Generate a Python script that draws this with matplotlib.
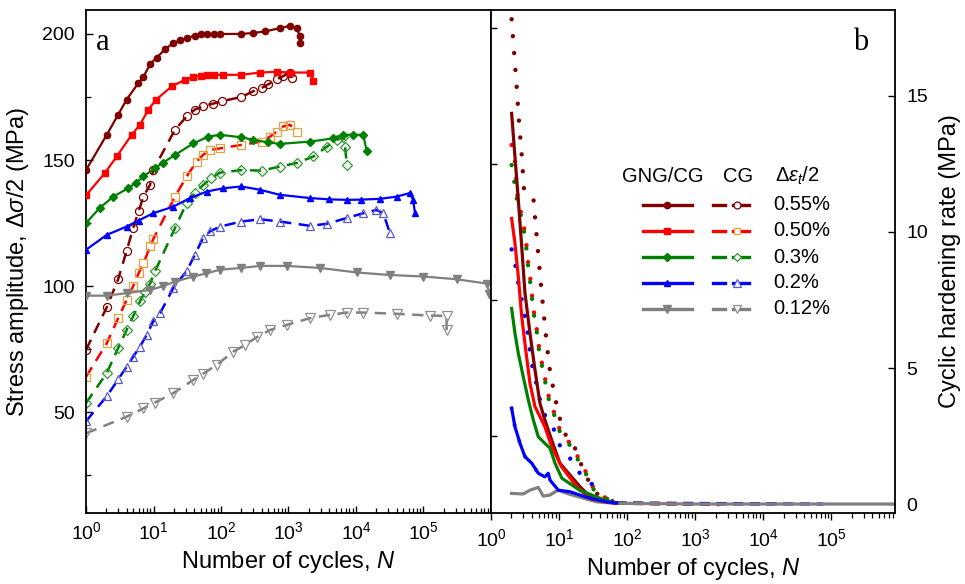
import numpy as np
import matplotlib
matplotlib.use('Agg')
import matplotlib.pyplot as plt
from matplotlib import ticker

plt.rcParams['font.family'] = ['Liberation Sans', 'DejaVu Sans']
plt.rcParams['mathtext.fontset'] = 'custom'
plt.rcParams['mathtext.rm'] = 'Liberation Sans'
plt.rcParams['mathtext.it'] = 'Liberation Sans:italic'
plt.rcParams['mathtext.bf'] = 'Liberation Sans:bold'

# ---------------- panel a: stress amplitude ----------------
amp_labels = ['0.55%', '0.50%', '0.3%', '0.2%', '0.12%']

gng055_N = [1, 2.03, 3.0, 4.0, 5.96, 7.1, 8.9, 11.1, 15, 19.6, 25, 31, 41, 50, 61.5, 80, 96.7, 200, 302, 447, 743, 1050, 1317, 1480, 1480]
gng055_S = [146, 160, 168, 174, 180.5, 183, 188, 190.6, 194, 196.4, 197.5, 198.4, 199.3, 199.8, 200, 200, 200, 200, 200.4, 201, 202.3, 203.2, 202.3, 199, 196.4]
gng050_N = [1, 1.9, 2.85, 4.75, 6.3, 8.4, 11, 18.6, 29.3, 39, 50, 61.5, 80, 108, 200, 378, 670, 1050, 2090, 2340]
gng050_S = [136, 144.8, 151.4, 160, 164, 170, 174, 179.2, 181.8, 183, 183.5, 183.8, 183.8, 183.8, 183.8, 184.7, 185, 184.7, 184.7, 181.5]
gng03_N = [1, 1.6, 2.54, 4.2, 5.5, 7.1, 10.5, 14, 20.8, 39, 65, 96.7, 200, 302, 500, 743, 2090, 4600, 6500, 9000, 12800, 14400]
gng03_S = [125, 131, 135.5, 138.8, 141, 143.5, 146.8, 149, 152, 156.6, 159.3, 160, 159, 158, 157, 156.4, 157.3, 158.6, 160, 160, 160, 153.5]
gng02_N = [1, 2.03, 4, 6, 9.9, 19.6, 34.8, 61.5, 108, 200, 378, 743, 2090, 4000, 7300, 12000, 22700, 40000, 63000, 70000, 75000]
gng02_S = [114.4, 120.3, 123.6, 126, 128.9, 131.5, 134.9, 137.5, 138.8, 139.5, 138.2, 136.2, 134.9, 134.4, 134.2, 134.3, 134.6, 135.5, 136.9, 134.2, 128.9]
gng012_N = [1, 2.03, 4, 8.9, 14, 20.8, 39, 60, 96.7, 200, 378, 940, 2930, 10200, 31800, 100000, 310000, 870000, 950000]
gng012_S = [96.2, 96.2, 97.2, 98.5, 100, 101.8, 103.8, 105, 106.5, 107.2, 108, 108, 107.2, 105.4, 104.4, 103.8, 102.7, 101, 97]

cg055_N = [1, 2.03, 3, 4, 5, 6, 7.1, 8.9, 9.9, 20.8, 31, 41, 54, 77, 102, 200, 302, 400, 500, 670, 836, 1050, 1110]
cg055_S = [74.7, 91.6, 102.8, 114, 123, 129.6, 135.5, 140.2, 146, 162, 167.3, 170, 171.3, 172.4, 173.3, 175, 177.3, 178.6, 180, 182, 183.3, 184.7, 182.7]
cg050_N = [1, 2.03, 3, 4, 5, 6, 7.1, 8.9, 9.9, 20.8, 31, 43.6, 54, 68.7, 96.7, 200, 400, 535, 670, 836, 1050, 1317]
cg050_S = [64, 77.3, 87.3, 94.5, 100, 105, 109, 115.7, 118.6, 135.5, 143.5, 149.4, 152, 154, 154.6, 156, 157.3, 159.3, 161.3, 163.3, 164, 161.3]
cg03_N = [1, 2.03, 3, 4, 5, 6.3, 7.5, 8.9, 10.5, 20.8, 31, 41, 54, 72, 96.7, 200, 400, 743, 1317, 2340, 3700, 5200, 6500, 6900, 7300]
cg03_S = [53.6, 65.5, 75.5, 82.6, 88, 93.9, 97.8, 101, 105.8, 123, 133, 137, 140, 142.8, 145, 146, 145.8, 147.4, 148.8, 151.4, 155.3, 158, 159.3, 155.3, 148]
cg02_N = [1, 2.03, 3, 4, 5, 6.3, 7.9, 9.9, 12.5, 19.6, 31, 41, 54, 68.7, 96.7, 200, 378, 743, 2090, 3700, 7300, 12800, 20000, 25400, 31800]
cg02_S = [46.4, 56.3, 63, 68, 72, 76, 80.6, 86, 89.2, 99.2, 106, 112.4, 119, 121.7, 123.6, 125.6, 126.5, 125.6, 123.9, 124.7, 127, 128.9, 130.2, 128.9, 121]
cg012_N = [1, 4, 7.1, 10.5, 19.6, 39, 54, 86, 152, 230, 337, 535, 940, 2090, 4100, 7300, 12800, 40000, 125000, 220000, 220000]
cg012_S = [41.6, 48.2, 51.5, 53.8, 57.5, 62.8, 65.2, 68.7, 74, 76.7, 79.7, 82.6, 84.6, 87.3, 88.6, 89.5, 89.5, 89, 88.3, 88.2, 82.6]

# ---------------- panel b: cyclic hardening rate ----------------
rg055_N = [2.01, 2.25, 2.52, 2.83, 3.16, 3.74, 4.43, 5.25, 6.2, 7.8, 10.3, 15.3, 20.3, 28.6, 50, 70]
rg055_R = [14.36, 12.77, 11.18, 9.46, 7.75, 6.28, 4.93, 3.7, 3.09, 2.35, 1.5, 1.0, 0.64, 0.27, 0.08, 0.03]
rg050_N = [2.01, 2.25, 2.52, 2.83, 3.24, 3.74, 4.43, 5.25, 6.2, 7.8, 10.9, 18.2, 28.6, 50, 70]
rg050_R = [10.5, 9.58, 8.36, 6.89, 5.66, 4.44, 3.58, 3.21, 2.84, 2.11, 1.37, 0.64, 0.2, 0.08, 0.03]
rg03_N = [2.01, 2.25, 2.52, 2.98, 3.54, 4.19, 4.96, 6.2, 7.37, 8.73, 11, 20.3, 50, 70]
rg03_R = [7.19, 6.28, 5.54, 4.68, 3.82, 3.09, 2.47, 2.23, 2.05, 1.5, 0.95, 0.5, 0.12, 0.05]
rg02_N = [2.01, 2.25, 2.67, 3.16, 3.97, 4.96, 6.2, 6.95, 7.37, 9.75, 14.5, 20.3, 28.6, 50, 70]
rg02_R = [3.52, 2.84, 2.23, 1.74, 1.5, 1.13, 1.0, 1.13, 0.88, 0.51, 0.45, 0.33, 0.21, 0.08, 0.04]
rg012_N = [2.01, 2.98, 3.74, 4.96, 5.87, 7.37, 8.73, 9.75, 13, 20.3, 35.8, 62, 1000, 100000, 870000]
rg012_R = [0.39, 0.37, 0.51, 0.61, 0.29, 0.33, 0.45, 0.51, 0.39, 0.25, 0.08, 0.03, 0.0, 0.0, 0.0]

# tails near zero (drawn dashed in the figure)
tail_N = [[70, 1500], [70, 2340], [70, 14400], [70, 76000]]
tail_R = [[0.03, 0.0], [0.03, -0.02], [0.03, 0.0], [0.03, 0.0]]

rc055_N = [2.01, 2.39, 2.58, 2.83, 3.06, 4.19, 4.86, 5.68, 6.37, 7.2, 7.95, 8.9, 10.1, 12.2, 14.5, 17.2, 20.3, 25.5, 30, 35.8, 50, 62]
rc055_R = [17.82, 15.3, 14.05, 12.83, 11.54, 11.28, 9.4, 7.53, 6.28, 5.05, 4.44, 3.82, 3.2, 2.6, 2.23, 2.05, 1.56, 1.0, 0.64, 0.39, 0.15, 0.1]
rc050_N = [2.01, 2.25, 2.47, 2.76, 3.09, 3.35, 3.54, 3.84, 4.05, 4.33, 4.8, 5.13, 5.75, 6.44, 7.2, 8.73, 10.3, 14.5, 20.3, 27, 31.9, 40, 62]
rc050_R = [13.2, 12.6, 11.2, 10.7, 10.1, 9.46, 8.79, 8.17, 7.56, 6.95, 6.3, 5.66, 5.05, 4.44, 3.85, 3.27, 2.72, 2.23, 1.6, 1.0, 0.6, 0.3, 0.15]
rc03_N = [2.01, 2.2, 2.47, 2.76, 3.09, 3.35, 3.54, 3.84, 4.05, 4.33, 4.8, 5.13, 5.75, 6.44, 7.2, 8.73, 10.3, 14.5, 20.3, 27, 31.9, 40, 62]
rc03_R = [12.46, 11.85, 11.0, 10.6, 9.95, 9.3, 8.65, 8.0, 7.45, 6.85, 6.2, 5.55, 4.95, 4.35, 3.75, 3.2, 2.65, 2.15, 1.5, 0.95, 0.55, 0.28, 0.12]
rc02_N = [2.01, 2.31, 2.52, 2.83, 3.16, 3.46, 3.74, 4.1, 4.7, 5.25, 6.2, 8.5, 9.75, 14, 22.7, 37.7, 46]
rc02_R = [9.36, 8.72, 8.11, 7.5, 6.86, 6.28, 5.64, 4.99, 4.38, 3.82, 3.27, 2.72, 2.23, 1.74, 0.94, 0.58, 0.51]
rc012_N = [2.01, 2.25, 2.67, 3.16, 3.97, 4.96, 6.2]
rc012_R = [3.52, 2.84, 2.23, 1.74, 1.5, 1.13, 1.0]

colors = ['#800000', '#ff0000', '#008000', '#0000ff', '#808080']
markers = ['o', 's', 'D', '^', 'v']
msizes = [4.5, 4.5, 4.0, 5.0, 5.5]
cg_edges = ['#800000', '#e8a040', '#2e9a2e', '#5a5acc', '#909090']

gng_a = [(gng055_N, gng055_S), (gng050_N, gng050_S), (gng03_N, gng03_S), (gng02_N, gng02_S), (gng012_N, gng012_S)]
cg_a = [(cg055_N, cg055_S), (cg050_N, cg050_S), (cg03_N, cg03_S), (cg02_N, cg02_S), (cg012_N, cg012_S)]
gng_b = [(rg055_N, rg055_R), (rg050_N, rg050_R), (rg03_N, rg03_R), (rg02_N, rg02_R), (rg012_N, rg012_R)]
cg_b = [(rc055_N, rc055_R), (rc050_N, rc050_R), (rc03_N, rc03_R), (rc02_N, rc02_R), (rc012_N, rc012_R)]

W, H = 965, 584
fig = plt.figure(figsize=(W / 100, H / 100), dpi=100)


def px_axes(x0, x1, y0, y1):
    return fig.add_axes([x0 / W, 1 - y1 / H, (x1 - x0) / W, (y1 - y0) / H])


ax1 = px_axes(86, 491, 10, 513)
ax2 = px_axes(491, 895, 10, 513)

# ---- panel a ----
for i in range(5):
    n, s = cg_a[i]
    ax1.plot(n, s, color=colors[i], lw=1.8, dashes=(4.5, 3.0), marker=markers[i],
             ms=msizes[i] + 1.3, mfc='none', mec=cg_edges[i], mew=0.9, zorder=2)
for i in range(5):
    n, s = gng_a[i]
    ax1.plot(n, s, color=colors[i], lw=1.6, marker=markers[i], ms=msizes[i],
             mfc=colors[i], mec=colors[i], zorder=3)

ax1.set_xscale('log')
ax1.set_xlim(1, 1e6)
ax1.set_ylim(10, 209.5)
ax1.xaxis.set_major_locator(ticker.FixedLocator([1e0, 1e1, 1e2, 1e3, 1e4, 1e5, 1e6]))
ax1.xaxis.set_major_formatter(ticker.FuncFormatter(
    lambda v, p: '' if v > 5e5 else r'$\mathdefault{10^{%d}}$' % int(round(np.log10(v)))))
ax1.xaxis.set_minor_locator(ticker.LogLocator(base=10, subs=np.arange(2, 10), numticks=100))
ax1.xaxis.set_minor_formatter(ticker.NullFormatter())
ax1.yaxis.set_major_locator(ticker.FixedLocator([50, 100, 150, 200]))
ax1.yaxis.set_minor_locator(ticker.FixedLocator([25, 75, 125, 175]))
ax1.tick_params(axis='both', which='both', direction='in', top=False, right=False, labelsize=14)
ax1.tick_params(axis='both', which='major', length=5, width=1.0, pad=8)
ax1.tick_params(axis='both', which='minor', length=3.5, width=0.9)
ax1.tick_params(axis='x', which='major', pad=6)
ax1.set_xlabel('Number of cycles, $N$', fontsize=17, labelpad=4)
ax1.set_ylabel(r'Stress amplitude, $\Delta\sigma/2$ (MPa)', fontsize=17, labelpad=8)
ax1.text(0.025, 0.965, 'a', transform=ax1.transAxes, fontsize=22, family='Liberation Serif',
         va='top', ha='left')

# ---- panel b ----
for i in range(5):
    n, r = cg_b[i]
    ax2.plot(n, r, color=colors[i], lw=3.2, dashes=(0.01, 3.8), dash_capstyle='round', zorder=3)
for i in range(4):
    ax2.plot(tail_N[i], tail_R[i], color=colors[i], lw=2.4, dashes=(3, 2), zorder=2)
for i in range(5):
    n, r = gng_b[i]
    ax2.plot(n, r, color=colors[i], lw=2.3, zorder=2 if i == 4 else 4)

ax2.set_xscale('log')
ax2.set_xlim(1, 8.7e5)
ax2.set_ylim(-0.33, 18.16)
ax2.xaxis.set_major_locator(ticker.FixedLocator([1e0, 1e1, 1e2, 1e3, 1e4, 1e5]))
ax2.xaxis.set_major_formatter(ticker.LogFormatterMathtext())
ax2.xaxis.set_minor_locator(ticker.LogLocator(base=10, subs=np.arange(2, 10), numticks=100))
ax2.xaxis.set_minor_formatter(ticker.NullFormatter())
ax2.yaxis.set_major_locator(ticker.FixedLocator([0, 5, 10, 15]))
ax2.yaxis.set_minor_locator(ticker.FixedLocator([2.5, 7.5, 12.5, 17.5]))
ax2.tick_params(axis='x', which='both', direction='out', top=False, labelsize=14)
ax2.tick_params(axis='x', which='major', length=5, width=1.0, pad=6)
ax2.tick_params(axis='x', which='minor', length=3.5, width=0.9)
ax2.tick_params(axis='y', which='major', direction='in', left=False, right=True,
                labelleft=False, labelright=True, length=5, width=1.0, pad=8, labelsize=14)
ax2.tick_params(axis='y', which='minor', direction='in', left=True, right=False,
                length=4, width=1.0)
ax2.yaxis.set_label_position('right')
ax2.set_xlabel('Number of cycles, $N$', fontsize=17, labelpad=4)
ax2.set_ylabel('Cyclic hardening rate (MPa)', fontsize=17, labelpad=8)
ax2.text(0.895, 0.965, 'b', transform=ax2.transAxes, fontsize=22, family='Liberation Serif',
         va='top', ha='left')

for ax in (ax1, ax2):
    for sp in ax.spines.values():
        sp.set_linewidth(1.3)


# ---- custom legend in panel b (pixel layout converted to axes fraction) ----
def fx(px):
    return (px - 491) / 404.0


def fy(py):
    return (513 - py) / 503.0


ax2.text(fx(663), fy(176), 'GNG/CG', transform=ax2.transAxes, fontsize=14.5, ha='center', va='center')
ax2.text(fx(738), fy(176), 'CG', transform=ax2.transAxes, fontsize=14.5, ha='center', va='center')
ax2.text(fx(797), fy(176), r'$\Delta\varepsilon_t/2$', transform=ax2.transAxes, fontsize=14.5,
         ha='center', va='center')
row_y = [205, 231, 257, 283, 309]
for i in range(5):
    yy = fy(row_y[i])
    ax2.plot([fx(643), fx(692)], [yy, yy], transform=ax2.transAxes, color=colors[i], lw=2.4,
             clip_on=False, zorder=6)
    ax2.plot([fx(667)], [yy], transform=ax2.transAxes, marker=markers[i], ms=msizes[i],
             color=colors[i], clip_on=False, zorder=7)
    ax2.plot([fx(713), fx(725)], [yy, yy], transform=ax2.transAxes, color=colors[i], lw=2.4,
             clip_on=False, zorder=6)
    ax2.plot([fx(733), fx(749)], [yy, yy], transform=ax2.transAxes, color=colors[i], lw=2.4,
             clip_on=False, zorder=6)
    ax2.plot([fx(737)], [yy], transform=ax2.transAxes, marker=markers[i], ms=msizes[i] + 0.5,
             mfc='white', mec=cg_edges[i], mew=0.9, clip_on=False, zorder=7)
    ax2.text(fx(773), yy, amp_labels[i], transform=ax2.transAxes, fontsize=14.5,
             ha='left', va='center')

fig.savefig('out.png', dpi=100)
